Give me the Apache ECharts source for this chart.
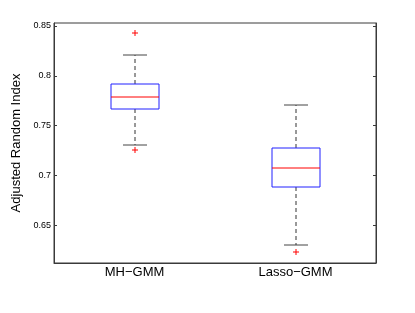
<!DOCTYPE html>
<html><head><meta charset="utf-8">
<script src="https://cdn.jsdelivr.net/npm/echarts@6/dist/echarts.min.js"></script>
<style>html,body{margin:0;padding:0;background:#fff}#c{width:415px;height:313px}</style>
</head><body><div id="c"></div>
<script>
const categories = ['MH\u2212GMM', 'Lasso\u2212GMM'];
const lowerWhisker = [0.730, 0.630];
const q1 = [0.7665, 0.688];
const median = [0.779, 0.7075];
const q3 = [0.792, 0.727];
const upperWhisker = [0.821, 0.771];
const outlierCategory = [0, 0, 1];
const outlierValue = [0.8427, 0.7253, 0.6227];
const yTicks = [0.65, 0.7, 0.75, 0.8, 0.85];
const yMin = 0.612, yMax = 0.853;

const boxData = categories.map((c, i) => [i, lowerWhisker[i], q1[i], median[i], q3[i], upperWhisker[i]]);
const outData = outlierCategory.map((c, i) => [c, outlierValue[i]]);
const FONT = 'Liberation Sans, Arial, Helvetica, sans-serif';

function seg(x1, y1, x2, y2, color, dash) {
  const st = {stroke: color, lineWidth: 1};
  if (dash) st.lineDash = dash;
  return {type: 'line', silent: true, shape: {x1: x1, y1: y1, x2: x2, y2: y2}, style: st};
}

const chart = echarts.init(document.getElementById('c'), null, {renderer: 'canvas'});
chart.setOption({
  animation: false,
  backgroundColor: '#fff',
  grid: {left: 54, right: 39, top: 23, bottom: 50, show: true, borderColor: '#3a3a3a', borderWidth: 1, backgroundColor: 'transparent'},
  xAxis: {
    type: 'category', data: categories, boundaryGap: true,
    axisLine: {show: true, lineStyle: {color: '#3a3a3a', width: 1}},
    axisTick: {show: false},
    axisLabel: {color: '#000', fontSize: 13, fontFamily: FONT, margin: 3}
  },
  yAxis: [{
    type: 'value', min: yMin, max: yMax, position: 'left',
    name: 'Adjusted Random Index', nameLocation: 'middle', nameGap: 24,
    nameTextStyle: {color: '#000', fontSize: 13, fontFamily: FONT},
    axisLine: {show: true, lineStyle: {color: '#3a3a3a', width: 1}},
    axisTick: {show: true, inside: true, length: 3, customValues: yTicks, lineStyle: {color: '#3a3a3a'}},
    axisLabel: {color: '#000', fontSize: 9, fontFamily: FONT, margin: 3, customValues: yTicks, formatter: v => String(v)},
    splitLine: {show: false}
  }, {
    type: 'value', min: yMin, max: yMax, position: 'right',
    axisLine: {show: true, lineStyle: {color: '#3a3a3a', width: 1}},
    axisTick: {show: true, inside: true, length: 3, customValues: yTicks, lineStyle: {color: '#3a3a3a'}},
    axisLabel: {show: false},
    splitLine: {show: false}
  }],
  series: [{
    type: 'custom',
    silent: true,
    data: boxData,
    encode: {x: 0, y: [1, 2, 3, 4, 5]},
    renderItem: function (params, api) {
      const i = api.value(0);
      const band = api.size([1, 0])[0];
      const cx = Math.round(api.coord([i, 0.7])[0]);
      const y = k => Math.round(api.coord([i, api.value(k)])[1]);
      const yLw = y(1), yQ1 = y(2), yMed = y(3), yQ3 = y(4), yUw = y(5);
      const bw = Math.round(band * 0.3 / 2);
      const cw = Math.round(band * 0.15 / 2);
      const kids = [
        seg(cx, yQ3, cx, yUw, '#333', [4, 3]),
        seg(cx, yQ1, cx, yLw, '#333', [4, 3]),
        seg(cx - cw, yUw, cx + cw, yUw, '#444'),
        seg(cx - cw, yLw, cx + cw, yLw, '#444'),
        {type: 'rect', silent: true, shape: {x: cx - bw, y: yQ3, width: 2 * bw, height: yQ1 - yQ3}, style: {fill: '#fff', stroke: '#2020ff', lineWidth: 1}},
        seg(cx - bw, yMed, cx + bw, yMed, '#ff0000')
      ];
      outData.filter(o => o[0] === i).forEach(o => {
        const oy = Math.round(api.coord([i, o[1]])[1]);
        kids.push(seg(cx - 3, oy, cx + 3, oy, '#ff0000'));
        kids.push(seg(cx, oy - 3, cx, oy + 3, '#ff0000'));
      });
      return {type: 'group', children: kids};
    }
  }]
});
</script></body></html>
